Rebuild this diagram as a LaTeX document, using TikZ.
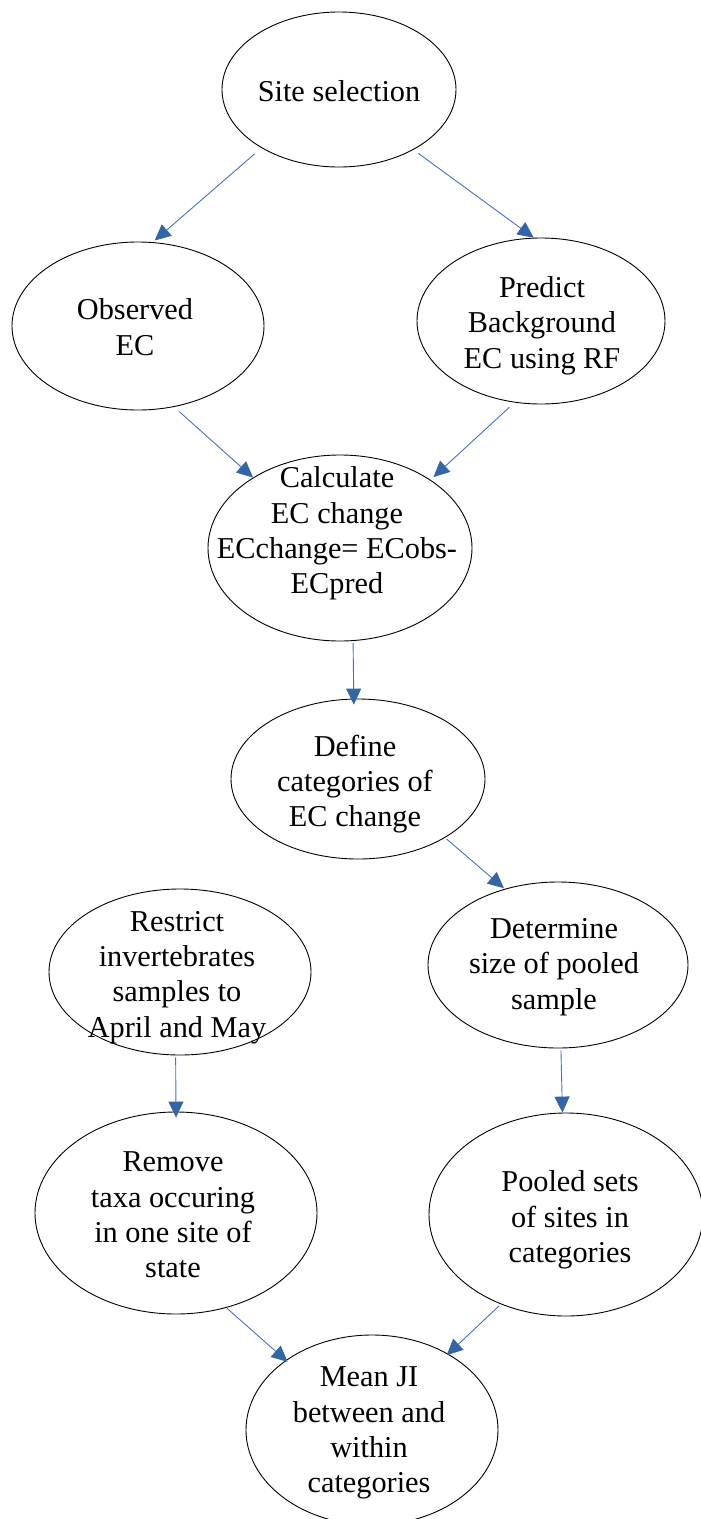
\documentclass[tikz,border=0pt]{standalone}
\usepackage{fontspec}
\setmainfont{Liberation Serif}
\usetikzlibrary{shapes.geometric,arrows.meta}
\definecolor{arrblue}{RGB}{52,101,164}
\definecolor{lineblue}{RGB}{68,114,196}
\begin{document}
\begin{tikzpicture}[x=1pt,y=-1pt,
  oval/.style={draw=black,line width=0.9pt,ellipse,inner sep=0pt},
  lbl/.style={font=\fontsize{30.3}{35.3}\selectfont,align=center,inner sep=0pt},
  conn/.style={draw=lineblue,line width=0.9pt,-{Triangle[length=16pt,width=15pt,color=arrblue]}}]
\useasboundingbox (0,0) rectangle (701,1519);
\fill[white] (0,0) rectangle (701,1519);

% ellipses
\node[oval,minimum width=234pt,minimum height=155pt] (site) at (339,89.5) {};
\node[oval,minimum width=252pt,minimum height=168pt] (obs) at (138,326) {};
\node[oval,minimum width=248pt,minimum height=166pt] (pred) at (541,321) {};
\node[oval,minimum width=264pt,minimum height=186pt] (calc) at (340,548) {};
\node[oval,minimum width=254pt,minimum height=160pt] (def) at (358,779) {};
\node[oval,minimum width=262pt,minimum height=166pt] (restr) at (180,972) {};
\node[oval,minimum width=260pt,minimum height=166pt] (det) at (558,965) {};
\node[oval,minimum width=282pt,minimum height=202pt] (rem) at (176,1213) {};
\node[oval,minimum width=274pt,minimum height=203pt] (pool) at (566,1214.5) {};
\node[oval,minimum width=252pt,minimum height=190pt] (mean) at (372,1430) {};

% texts
\node[lbl] (siteT) at (339,91) {Site selection};
\node[lbl] (obsT) at (135,327.25) {Observed\\EC};
\node[lbl] (predT) at (542,325.5) {Predict\\Background\\EC using RF};
\node[lbl] (calcT) at (337,533.5) {Calculate\\EC change\\ECchange= ECobs-\\ECpred};
\node[lbl] (defT) at (355,784) {Define\\categories of\\EC change};
\node[lbl] (restrT) at (177,977.5) {Restrict\\invertebrates\\samples to\\April and May};
\node[lbl] (detT) at (554,967) {Determine\\size of pooled\\sample};
\node[lbl] (remT) at (173,1215) {Remove\\taxa occuring\\in one site of\\state};
\node[lbl] (poolT) at (570,1220) {Pooled sets\\of sites in\\categories};
\node[lbl] (meanT) at (369,1433) {Mean JI\\between and\\within\\categories};

% connectors
\draw[conn,shorten <=9pt,shorten >=2.5pt] (site.217.8) -- (obs.80.75);
\draw[conn,shorten <=6pt] (site.321.2) -- (pred.95.5);
\draw[conn,shorten <=7pt] (obs.294.7) -- (calc.141.6);
\draw[conn,shorten <=7pt,shorten >=4pt] (pred.252.9) -- (calc.37.25);
\draw[conn,shorten <=2pt,shorten >=-6pt] (calc.278.4) -- (def.93.9);
\draw[conn,shorten <=2pt,shorten >=1pt] (def.326.5) -- (det.125.9);
\draw[conn,shorten <=2pt,shorten >=-6pt] (restr.267.3) -- (rem.90);
\draw[conn,shorten <=2pt] (det.272.7) -- (pool.92.2);
\draw[conn,shorten <=1pt,shorten >=-2.5pt] (rem.298.7) -- (mean.141);
\draw[conn,shorten <=2pt,shorten >=-2pt] (pool.234.2) -- (mean.45.8);
\end{tikzpicture}
\end{document}
